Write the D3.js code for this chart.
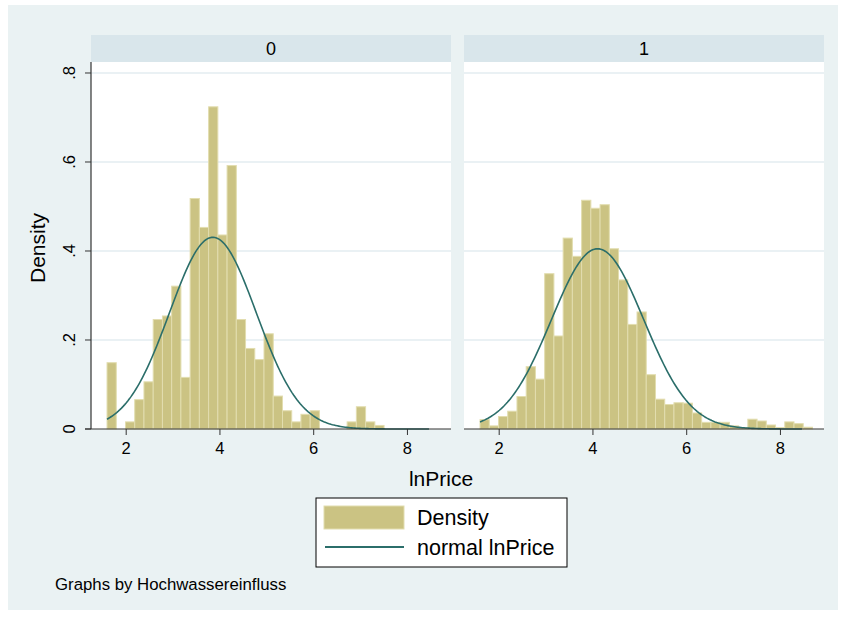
<!DOCTYPE html>
<html>
<head>
<meta charset="utf-8">
<script src="https://cdn.jsdelivr.net/npm/d3@7"></script>
<style>
body{margin:0;background:#fff;}
text{font-family:"Liberation Sans",Arial,sans-serif;fill:#000;}
</style>
</head>
<body>
<script>
// groups (Hochwassereinfluss)
var groups = ['0','1'];
// bins start at 1.602, width 0.197
var binStart = 1.602, binWidth = 0.197;
var density0 = [0.149,0,0.016,0.066,0.106,0.246,0.254,0.321,0.116,0.518,0.453,0.724,0.436,0.592,0.246,
    0.181,0.156,0.214,0.074,0.041,0.016,0.033,0.041,0,0,0,0.016,0.050,0.016,0.008,0,0,0,0,0,0];
var density1 = [0.021,0.007,0.028,0.040,0.073,0.140,0.112,0.349,0.209,0.429,0.388,0.514,0.496,0.504,0.405,
    0.335,0.235,0.263,0.122,0.067,0.055,0.059,0.058,0.036,0.015,0.015,0.015,0.007,0.003,0.022,0.018,0.009,0.003,0.016,0.012,0.004];
// normal fit per group
var normalMean = [3.86,4.11];
var normalSd = [0.926,0.985];
var curveRange = [1.602,8.47];
var xTicks = [2,4,6,8];
var yTicks = [0,0.2,0.4,0.6,0.8];
var yTickLabels = ['0','.2','.4','.6','.8'];

var barFill = '#cbc383', barLine = '#e2ddaf', curveColor = '#2b6e6a';
var fontFam = '"Liberation Sans",Arial,sans-serif';

var svg = d3.select('body').append('svg').attr('width',843).attr('height',617);
svg.append('rect').attr('x',8).attr('y',5).attr('width',830).attr('height',605).attr('fill','#eaf2f3');

var panels = [{x0:91,x1:451,dens:density0},{x0:464,x1:824,dens:density1}];
var plotTop = 62, plotBottom = 429;
var y = d3.scaleLinear().domain([0,0.8247]).range([plotBottom,plotTop]);

panels.forEach(function(p,i){
    var x = d3.scaleLinear().domain([1.26,8.94]).range([p.x0,p.x1]);
    var g = svg.append('g');
    // strip
    g.append('rect').attr('x',p.x0).attr('y',35).attr('width',p.x1-p.x0).attr('height',27).attr('fill','#d9e6eb');
    g.append('text').attr('x',(p.x0+p.x1)/2).attr('y',55).attr('text-anchor','middle')
        .style('font-size','18px').text(groups[i]);
    // plot region
    g.append('rect').attr('x',p.x0).attr('y',plotTop).attr('width',p.x1-p.x0).attr('height',plotBottom-plotTop).attr('fill','#fff');
    g.selectAll('.grid').data(yTicks.slice(1)).enter().append('line')
        .attr('x1',p.x0).attr('x2',p.x1).attr('y1',function(d){return y(d);}).attr('y2',function(d){return y(d);})
        .attr('stroke','#e3ecf0').attr('stroke-width',1.3);
    // bars
    p.dens.forEach(function(d,k){
        if(d<=0) return;
        var a = x(binStart+binWidth*k), b = x(binStart+binWidth*(k+1));
        g.append('rect').attr('x',a).attr('y',y(d)).attr('width',b-a).attr('height',y(0)-y(d))
            .attr('fill',barFill).attr('stroke',barLine).attr('stroke-width',1);
    });
    // normal curve
    var pts = d3.range(0,201).map(function(j){
        var v = curveRange[0]+(curveRange[1]-curveRange[0])*j/200;
        var z = (v-normalMean[i])/normalSd[i];
        return [v, Math.exp(-0.5*z*z)/(normalSd[i]*Math.sqrt(2*Math.PI))];
    });
    g.append('path').datum(pts).attr('fill','none').attr('stroke',curveColor).attr('stroke-width',1.6)
        .attr('d',d3.line().x(function(d){return x(d[0]);}).y(function(d){return y(d[1]);}));
    // x axis
    var xa = g.append('g').attr('transform','translate(0,'+plotBottom+')')
        .call(d3.axisBottom(x).tickValues(xTicks).tickSize(6).tickPadding(7).tickFormat(d3.format('d')));
    xa.attr('font-size',16.5).attr('font-family',fontFam);
    xa.select('.domain').attr('d','M'+(i==0?85:p.x0)+',0H'+p.x1).attr('stroke','#333').attr('stroke-width',1.2);
    xa.selectAll('.tick line').attr('stroke','#333');
    xa.selectAll('.tick text').attr('fill','#000');
    if(i==0){
        g.append('line').attr('x1',p.x0).attr('x2',p.x0).attr('y1',plotTop).attr('y2',plotBottom)
            .attr('stroke','#333').attr('stroke-width',1.2);
        yTicks.forEach(function(t,k){
            g.append('line').attr('x1',p.x0-6).attr('x2',p.x0).attr('y1',y(t)).attr('y2',y(t)).attr('stroke','#333');
            g.append('text').attr('transform','translate(75,'+y(t)+') rotate(-90)').attr('text-anchor','middle')
                .style('font-size','16.5px').text(yTickLabels[k]);
        });
    }
});

svg.append('text').attr('transform','translate(45,248) rotate(-90)').attr('text-anchor','middle')
    .style('font-size','21px').text('Density');
svg.append('text').attr('x',441).attr('y',486).attr('text-anchor','middle').style('font-size','21px').text('lnPrice');

// legend
var lg = svg.append('g');
lg.append('rect').attr('x',316).attr('y',498).attr('width',251).attr('height',69).attr('fill','#fff').attr('stroke','#000');
lg.append('rect').attr('x',324).attr('y',506).attr('width',80).attr('height',23).attr('fill',barFill).attr('stroke',barLine);
lg.append('line').attr('x1',325).attr('x2',404).attr('y1',547).attr('y2',547).attr('stroke',curveColor).attr('stroke-width',1.8);
lg.append('text').attr('x',417).attr('y',525).style('font-size','21.5px').text('Density');
lg.append('text').attr('x',417).attr('y',555).style('font-size','21.5px').text('normal lnPrice');

svg.append('text').attr('x',55).attr('y',590).style('font-size','16.8px').text('Graphs by Hochwassereinfluss');
</script>
</body>
</html>
